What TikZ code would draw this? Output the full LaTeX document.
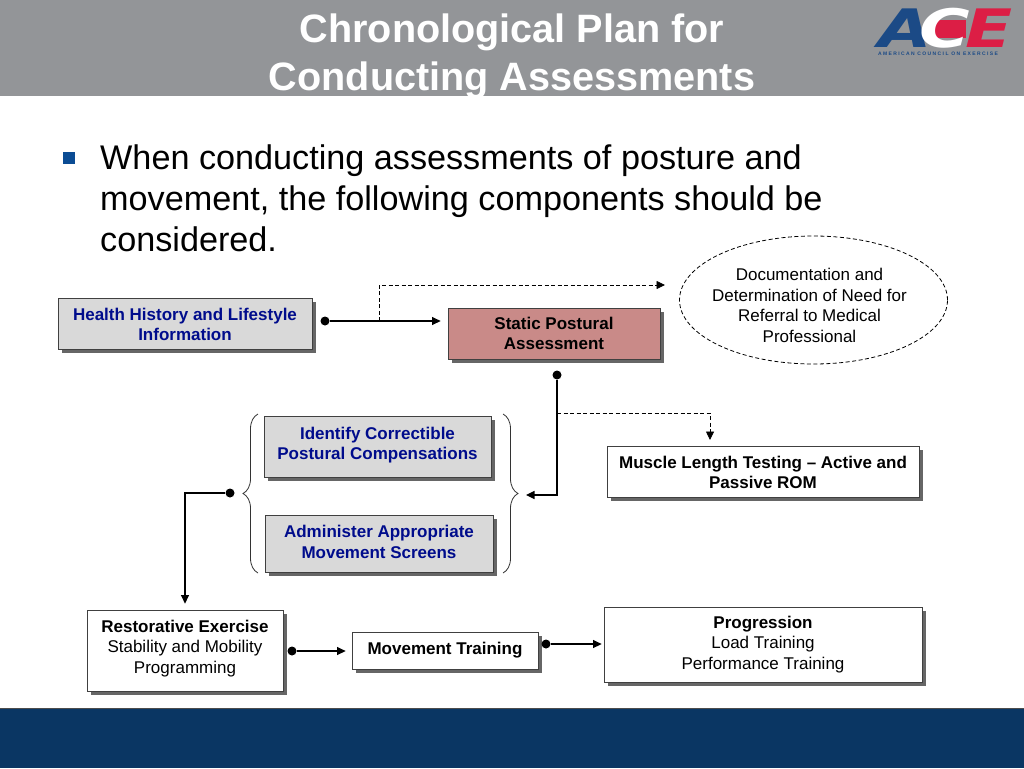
\documentclass[tikz,border=0pt]{standalone}
\usepackage{fontspec}
\setmainfont{Liberation Sans}
\newfontfamily\logofont{DejaVu Sans}
\usetikzlibrary{arrows.meta,shadows,shapes.geometric,decorations.pathreplacing}

\definecolor{bandgray}{HTML}{939598}
\definecolor{bandnavy}{HTML}{0A3663}
\definecolor{boxgray}{HTML}{D9D9D9}
\definecolor{boxrose}{HTML}{C98A88}
\definecolor{textblue}{HTML}{000C8C}
\definecolor{bulletblue}{HTML}{0B4C94}
\definecolor{aceblue}{HTML}{1B4A86}
\definecolor{acered}{HTML}{DC1E45}

\newcommand{\boxfont}{\fontsize{17}{20.5}\selectfont}
\newcommand{\sinktext}[1]{\rule{0pt}{#1}}
\newcommand{\lifttext}[1]{\rule[-#1]{0pt}{0pt}}

\begin{document}
\begin{tikzpicture}[x=1pt,y=-1pt,>={Triangle[length=8.5pt,width=8pt]},
        box/.style={draw=black!75,line width=0.8pt,align=center,inner sep=0pt,
          font=\boxfont,
          drop shadow={shadow xshift=3.5pt,shadow yshift=-3.5pt,fill=black!60,opacity=1}},
        graybox/.style={box,fill=boxgray,text=textblue},
        whitebox/.style={box,fill=white},
        logoletter/.style={font=\logofont\bfseries\itshape\fontsize{53}{53}\selectfont,inner sep=0pt},
        dot/.style={circle,fill=black,inner sep=0pt,minimum size=9pt},
        solidline/.style={line width=1.1pt,->},
        dashline/.style={line width=0.8pt,dash pattern=on 4pt off 2.5pt,->}]

  \useasboundingbox (0,0) rectangle (1024,768);
  \fill[white] (0,0) rectangle (1024,768);

  % bands
  \fill[bandgray] (0,0) rectangle (1024,96);
  \fill[bandnavy] (0,708) rectangle (1024,768);
  \draw[black!70,line width=1pt] (0,708) -- (1024,708);

  % title and bullet
  \node[text=white,align=center,font=\bfseries\fontsize{39.6}{48}\selectfont] (title) at (512,56)
    {Chronological Plan for\\Conducting Assessments};
  \fill[bulletblue] (63,152) rectangle (75,164);
  \node[anchor=north west,inner sep=0pt,align=left,font=\fontsize{34.2}{41}\selectfont] (intro) at (100,145)
    {When conducting assessments of posture and\\movement, the following components should be\\considered.};

  % logo
  \fill[acered] (935,20) rectangle (966,38);
  \node[logoletter,text=aceblue] (logoa) at (905,28.5) {\scalebox{1.3}[1]{A}};
  \node[logoletter,text=acered] (logoe) at (989,28.5) {\scalebox{1.3}[1]{E}};
  \node[logoletter,text=white] (logoc) at (945,28.5) {\scalebox{1.3}[1]{C}};
  \node[text=aceblue,font=\bfseries\fontsize{5}{5}\selectfont,inner sep=0pt] (logotext) at (938,53.5)
    {A M E R I C A N\ \ C O U N C I L\ \ O N\ \ E X E R C I S E};

  % boxes
  \node[graybox,minimum width=254pt,minimum height=51pt] (health) at (185,323.5)
    {\sinktext{14.5pt}\textbf{Health History and Lifestyle}\\\textbf{Information}};
  \node[box,fill=boxrose,minimum width=212pt,minimum height=51pt] (static) at (554,333.5)
    {\textbf{Static Postural}\\\textbf{Assessment}};
  \node[draw=black,dash pattern=on 4pt off 2.5pt,ellipse,line width=0.8pt,
        minimum width=268pt,minimum height=128pt,inner sep=0pt] (referral) at (813.5,300) {};
  \node[align=center,font=\boxfont,inner sep=0pt] (referraltext) at (809.5,305.5)
    {Documentation and\\Determination of Need for\\Referral to Medical\\Professional};
  \node[graybox,minimum width=227pt,minimum height=61pt] (identify) at (377.5,446.5)
    {\textbf{Identify Correctible}\\\textbf{Postural Compensations}\lifttext{6pt}};
  \node[graybox,minimum width=228pt,minimum height=57pt] (administer) at (379,543.5)
    {\textbf{Administer Appropriate}\\\textbf{Movement Screens}\lifttext{3pt}};
  \node[whitebox,minimum width=312pt,minimum height=51pt] (muscle) at (763,471.5)
    {\sinktext{14.5pt}\textbf{Muscle Length Testing – Active and}\\\textbf{Passive ROM}};
  \node[whitebox,minimum width=196pt,minimum height=81pt] (restore) at (185,650.5)
    {\textbf{Restorative Exercise}\\Stability and Mobility\\Programming\lifttext{8pt}};
  \node[whitebox,minimum width=186pt,minimum height=37pt] (movement) at (445,650.5)
    {\textbf{Movement Training}};
  \node[whitebox,minimum width=318pt,minimum height=75pt] (progress) at (763,644.5)
    {\textbf{Progression}\\Load Training\\Performance Training};

  % dots and corners
  \node[dot] (dhealth) at (325,321) {};
  \node[dot] (dstatic) at (557,375) {};
  \node[dot] (dbrace) at (230,493) {};
  \node[dot] (drestore) at (292,651) {};
  \node[dot] (dmove) at (546,644) {};
  \coordinate (bracein) at (526,495);
  \coordinate (split1) at (379,321);
  \coordinate (end1) at (665,285);
  \coordinate (split2) at (557,413);
  \coordinate (muscletop) at (710,440);

  % braces
  \draw[black!80,line width=0.8pt,decorate,decoration={brace,amplitude=15pt}]
    (258,573) -- (258,414);
  \draw[black!80,line width=0.8pt,decorate,decoration={brace,amplitude=15pt}]
    (503,414) -- (503,573);

  % connectors
  \draw[solidline,shorten >=7pt] (dhealth) -- (dhealth -| static.west);
  \draw[solidline] (dstatic) |- (bracein);
  \draw[solidline,shorten >=6pt] (dbrace) -| (restore.north);
  \draw[solidline,shorten >=6pt] (drestore) -- (drestore -| movement.west);
  \draw[solidline,shorten >=2pt] (dmove) -- (dmove -| progress.west);
  \draw[dashline] (split1) |- (end1);
  \draw[dashline] (split2) -| (muscletop);
\end{tikzpicture}
\end{document}
